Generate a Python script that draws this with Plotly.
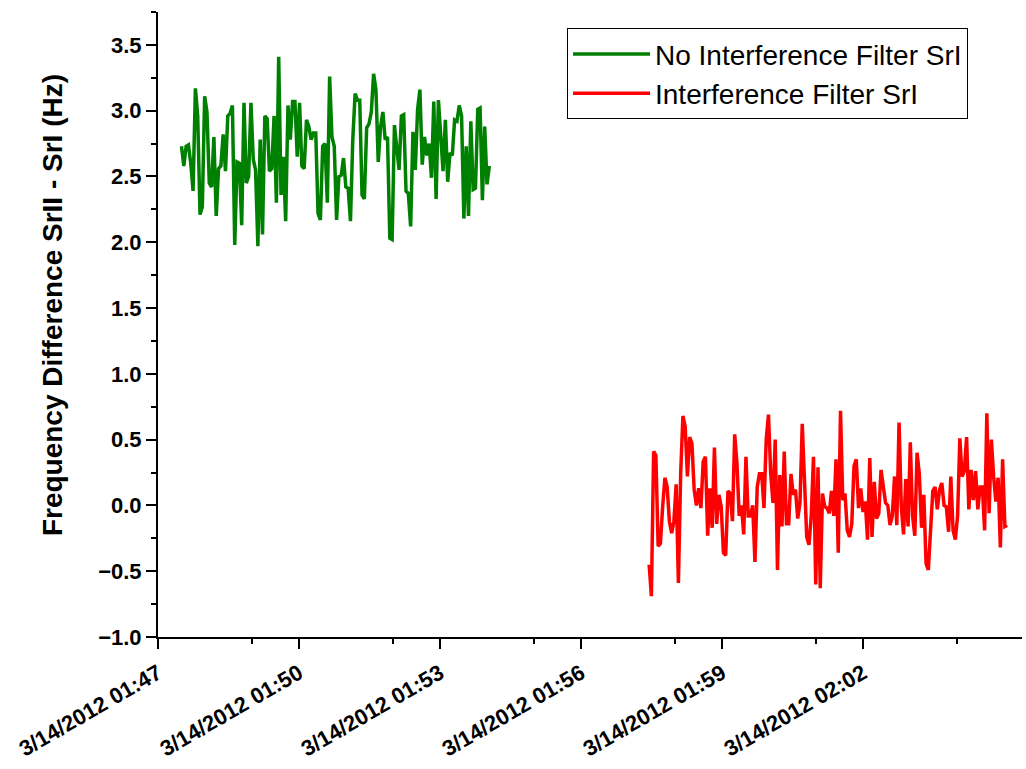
import plotly.graph_objects as go
import pandas as pd

# ---- data ----
green_name = "No Interference Filter SrI"
green_start = "2012-03-14 01:47:30"
green_end = "2012-03-14 01:54:03"
green_values = [
    2.73, 2.58, 2.73, 2.74, 2.60, 2.39, 3.17, 2.96, 2.21, 2.27,
    3.11, 2.99, 2.45, 2.42, 2.80, 2.20, 2.56, 2.58, 2.82, 2.54,
    2.96, 2.98, 3.04, 1.98, 2.61, 2.60, 2.13, 3.06, 2.45, 2.50,
    3.06, 2.63, 2.55, 1.97, 2.78, 2.06, 2.96, 2.94, 2.54, 2.56,
    2.96, 2.30, 3.41, 2.36, 2.65, 2.16, 3.04, 2.78, 3.07, 3.07,
    2.65, 3.06, 2.58, 2.56, 2.93, 2.88, 2.78, 2.83, 2.83, 2.22,
    2.17, 2.73, 2.75, 2.30, 3.26, 2.80, 2.73, 2.17, 2.50, 2.51,
    2.64, 2.42, 2.41, 2.16, 2.78, 3.13, 3.08, 3.08, 2.36, 2.33,
    2.87, 2.90, 2.99, 3.28, 3.16, 2.61, 2.88, 2.99, 2.78, 2.80,
    2.03, 2.02, 2.89, 2.70, 2.55, 2.96, 2.97, 2.39, 2.37, 2.12,
    2.84, 2.55, 3.01, 3.16, 2.59, 2.80, 2.66, 2.75, 2.49, 3.07,
    2.33, 3.08, 2.80, 2.54, 2.93, 2.46, 2.68, 2.66, 2.93, 2.92,
    3.04, 2.96, 2.18, 2.73, 2.20, 2.92, 2.40, 2.41, 3.01, 3.02,
    2.32, 2.88, 2.44, 2.58,
]

red_name = "Interference Filter SrI"
red_start = "2012-03-14 01:57:27"
red_end = "2012-03-14 02:05:04"
red_values = [
    -0.45, -0.69, 0.41, 0.38, -0.31, -0.29, -0.01, 0.21, 0.14, -0.12,
    -0.21, -0.12, 0.16, -0.59, 0.24, 0.68, 0.60, 0.22, 0.52, 0.47,
    0.12, 0.00, 0.13, -0.02, 0.33, 0.37, -0.23, 0.13, -0.17, 0.44,
    -0.14, 0.08, -0.01, -0.36, -0.38, 0.11, 0.09, -0.12, 0.54, 0.32,
    -0.08, 0.00, -0.22, 0.37, -0.08, -0.08, 0.00, -0.43, 0.14, 0.24,
    0.24, -0.02, 0.50, 0.69, 0.24, 0.02, 0.50, -0.49, 0.23, -0.16,
    0.41, -0.14, -0.14, 0.24, 0.08, 0.12, -0.10, 0.02, 0.62, 0.12,
    -0.24, -0.30, -0.08, 0.37, -0.60, 0.29, -0.63, 0.09, -0.01, -0.02,
    -0.06, 0.11, -0.08, 0.35, -0.36, 0.72, 0.04, 0.09, -0.19, -0.24,
    -0.14, 0.30, 0.35, -0.02, 0.13, -0.05, 0.03, -0.26, 0.36, -0.24,
    0.18, -0.10, -0.06, 0.27, 0.16, 0.02, 0.00, -0.15, -0.08, 0.22,
    -0.15, 0.63, -0.01, -0.22, 0.20, -0.16, 0.48, -0.08, -0.23, 0.40,
    0.24, -0.17, 0.08, -0.44, -0.49, -0.14, 0.11, 0.14, -0.03, 0.12,
    0.17, 0.00, -0.01, -0.20, 0.22, -0.19, -0.26, -0.08, 0.51, 0.22,
    0.26, 0.52, -0.03, 0.27, 0.04, 0.26, -0.03, 0.14, 0.14, -0.19,
    0.70, -0.06, 0.50, 0.22, 0.03, 0.21, -0.32, 0.35, -0.16, -0.15,
]

y_title = "Frequency Difference SrII - SrI (Hz)"
x_range = ["2012-03-14 01:47:00", "2012-03-14 02:05:23"]
y_range = [-1.0, 3.75]
x_major_ticks = ["2012-03-14 01:47:00", "2012-03-14 01:50:00", "2012-03-14 01:53:00",
                 "2012-03-14 01:56:00", "2012-03-14 01:59:00", "2012-03-14 02:02:00"]
x_minor_ticks = ["2012-03-14 01:49:00", "2012-03-14 01:52:00", "2012-03-14 01:55:00",
                 "2012-03-14 01:58:00", "2012-03-14 02:01:00", "2012-03-14 02:04:00"]

green_times = pd.date_range(green_start, green_end, periods=len(green_values))
red_times = pd.date_range(red_start, red_end, periods=len(red_values))

FONT = "Liberation Sans, Arial, sans-serif"

fig = go.Figure()
fig.add_trace(go.Scatter(x=green_times, y=green_values, mode="lines", name=green_name,
                         line=dict(color="#008000", width=3.5)))
fig.add_trace(go.Scatter(x=red_times, y=red_values, mode="lines", name=red_name,
                         line=dict(color="#FF0000", width=3.5)))

axis_common = dict(showline=True, linecolor="black", linewidth=2, ticks="outside",
                   ticklen=10, tickwidth=2, tickcolor="black", showgrid=False,
                   zeroline=False, automargin=False)

fig.update_xaxes(range=x_range, type="date", tickmode="array", tickvals=x_major_ticks,
                 tickformat="%-m/%d/%Y %H:%M", tickangle=-30, ticklabelstandoff=3,
                 tickfont=dict(family=FONT, size=22, color="black", weight="bold"),
                 minor=dict(tickmode="array", tickvals=x_minor_ticks, ticklen=5,
                            tickwidth=2, tickcolor="black", ticks="outside"),
                 **axis_common)
fig.update_yaxes(range=y_range, tick0=-1.0, dtick=0.5, tickformat=".1f",
                 tickfont=dict(family=FONT, size=22, color="black", weight="bold"),
                 minor=dict(dtick=0.25, tick0=-1.0, ticklen=5, tickwidth=2,
                            tickcolor="black", ticks="outside"),
                 **axis_common)

fig.add_annotation(text=y_title, xref="paper", yref="paper",
                   x=-0.1227, y=0.531, xanchor="center", yanchor="middle",
                   textangle=-90, showarrow=False,
                   font=dict(family=FONT, size=28, color="black", weight="bold"))

fig.update_layout(
    width=1026, height=769,
    margin=dict(l=158, r=4, t=12, b=132, autoexpand=False),
    paper_bgcolor="white", plot_bgcolor="white",
    showlegend=True,
    legend=dict(x=0.4734, y=0.974, xanchor="left", yanchor="top",
                bgcolor="white", bordercolor="black", borderwidth=1,
                font=dict(family=FONT, size=28, color="black"),
                itemwidth=77, tracegroupgap=0),
)

fig.write_html("out.html")
